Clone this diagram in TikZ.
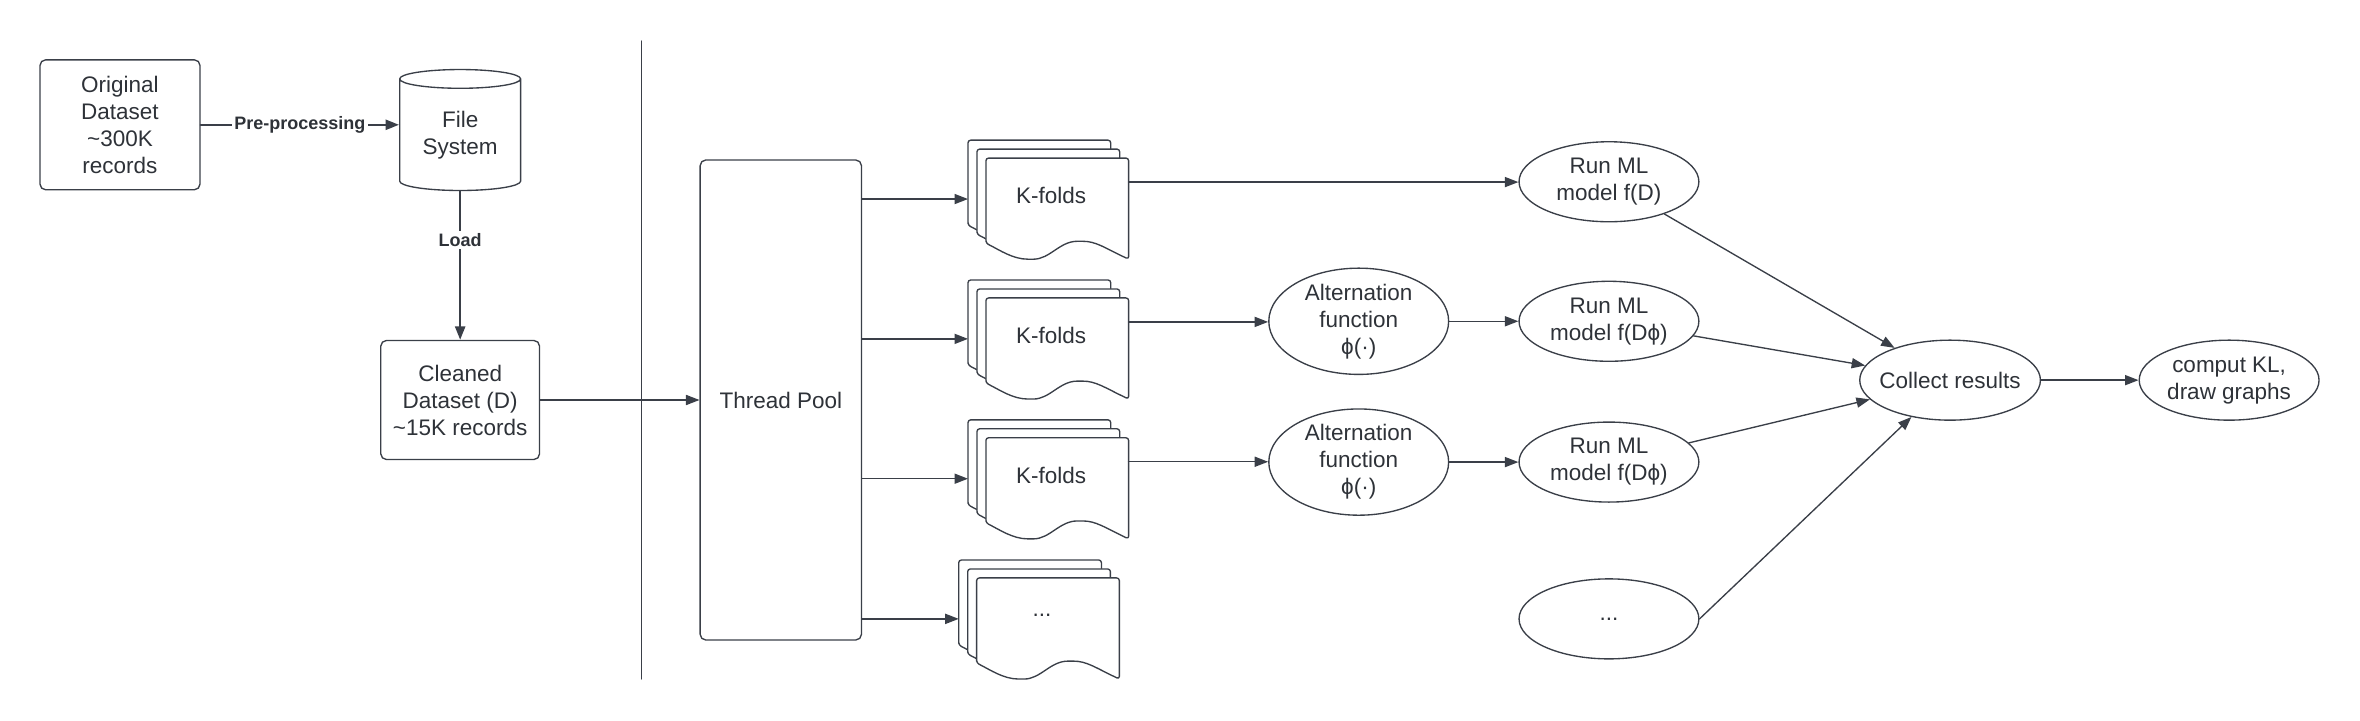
\documentclass[tikz,border=0pt]{standalone}
\usepackage{fontspec}
\setmainfont{Liberation Sans}
\usetikzlibrary{shapes,shapes.geometric,arrows,arrows.meta,calc}
\definecolor{inkline}{HTML}{3A3F48}
\definecolor{inktext}{HTML}{2E3238}
\tikzset{
	box/.style={draw=inkline, rounded corners=2.5pt, align=center, text=inktext, font=\fontsize{10}{12}\selectfont, line width=0.6pt, inner sep=0pt},
	oval/.style={ellipse, draw=inkline, align=center, text=inktext, font=\fontsize{10}{12}\selectfont, minimum width=2.81cm, minimum height=1.25cm, inner sep=0pt, line width=0.6pt},
	page/.style={draw=inkline, fill=white, line width=0.6pt, rounded corners=1.2pt},
	link/.style={->, draw=inkline, line width=0.6pt},
	thicklink/.style={->, draw=inkline, line width=1pt},
	lbl/.style={font=\bfseries\fontsize{8}{9}\selectfont, text=inktext, fill=white, inner sep=1pt},
	foldstack/.pic={
		\foreach \d in {0,0.14,0.28}
		\draw[page, shift={(\d,-\d)}] (0,-1.33) -- (0,0) -- (2.23,0) -- (2.23,-1.58) .. controls (1.85,-1.40) and (1.72,-1.30) .. (1.47,-1.30) .. controls (1.15,-1.30) and (1.0,-1.58) .. (0.70,-1.58) .. controls (0.42,-1.58) and (0.22,-1.44) .. (0,-1.33) -- cycle;
		\coordinate (-in) at (0,-0.92);
		\coordinate (-out) at (2.51,-0.655);
		\node[text=inktext, font=\fontsize{10}{12}\selectfont] (-txt) at (1.3,-0.87) {#1};
	}
}
\begin{document}
\begin{tikzpicture}[line cap=round,line join=round,>={Triangle[length=6pt,width=4.5pt]},x=1.0cm,y=1.0cm]
	\useasboundingbox (0,0) rectangle (36.875,11.25);
	\node[box, minimum width=2.5cm, minimum height=2.03cm] (orig) at (1.875,9.30) {Original\\Dataset\\\textasciitilde300K\\records};
	\node[cylinder, shape border rotate=90, aspect=0.25, draw=inkline, line width=0.6pt, align=center, text=inktext, font=\fontsize{10}{12}\selectfont, minimum width=1.89cm, minimum height=1.89cm, inner sep=0pt] (fs) at (7.19,9.14) {File\\System};
	\node[box, minimum width=2.48cm, minimum height=1.86cm] (clean) at (7.19,5.0) {Cleaned\\Dataset (D)\\\textasciitilde15K records};
	\node[box, minimum width=2.52cm, minimum height=7.5cm] (pool) at (12.2,5.0) {Thread Pool};
	\draw[inkline, line width=0.6pt] (10.02,10.61) -- (10.02,0.64);
	\draw[thicklink] (orig.east) -- (orig.east -| fs.west) node[midway, lbl] {Pre-processing};
	\draw[thicklink] (fs.south) -- (clean.north) node[pos=0.33, lbl] {Load};
	\draw[link] (clean.east) -- (pool.west);
	\pic (s1) at (15.125,9.06) {foldstack=K-folds};
	\pic (s2) at (15.125,6.875) {foldstack=K-folds};
	\pic (s3) at (15.125,4.69) {foldstack=K-folds};
	\pic (s4) at (14.98,2.5) {foldstack=...};
	\foreach \s in {s1,s2,s3,s4}
	\draw[link] (pool.east |- \s-in) -- (\s-in);
	\node[oval] (run1) at (25.14,8.41) {Run ML\\model f(D)};
	\node[oval, minimum height=1.66cm] (alt1) at (21.23,6.23) {Alternation\\function\\ϕ(·)};
	\node[oval] (run2) at (25.14,6.23) {Run ML\\model f(Dϕ)};
	\node[oval, minimum height=1.66cm] (alt2) at (21.23,4.03) {Alternation\\function\\ϕ(·)};
	\node[oval] (run3) at (25.14,4.03) {Run ML\\model f(Dϕ)};
	\node[oval] (dots) at (25.14,1.58) {...};
	\node[oval, inner xsep=-3pt] (collect) at (30.47,5.31) {Collect results};
	\node[oval] (comput) at (34.83,5.31) {comput KL,\\draw graphs};
	\draw[link] (s1-out) -- (s1-out -| run1.west);
	\draw[link] (s2-out) -- (s2-out -| alt1.west);
	\draw[link] (s3-out) -- (s3-out -| alt2.west);
	\draw[link] (alt1) -- (run2);
	\draw[link] (alt2) -- (run3);
	\draw[link] (run1) -- (collect);
	\draw[link] (run2) -- (collect);
	\draw[link] (run3) -- (collect);
	\draw[link] (dots.east) -- (collect);
	\draw[link] (collect) -- (comput);
\end{tikzpicture}
\end{document}
